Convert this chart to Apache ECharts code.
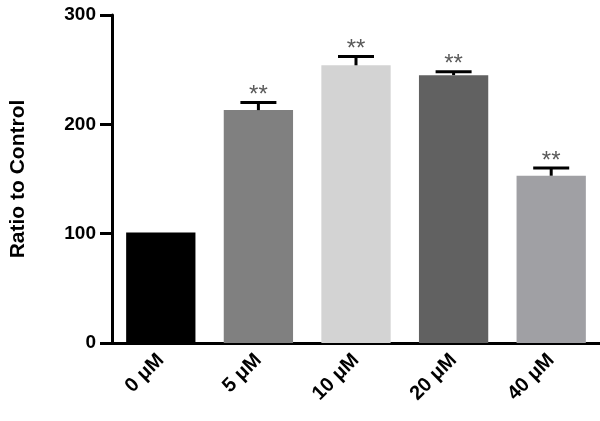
<!DOCTYPE html>
<html>
<head>
<meta charset="utf-8">
<script src="https://cdn.jsdelivr.net/npm/echarts@6/dist/echarts.min.js"></script>
<style>
  html, body { margin: 0; padding: 0; background: #fff; }
  #chart { width: 600px; height: 421px; }
</style>
</head>
<body>
<div id="chart"></div>
<script>
// bar data
const categories = ['0 μM', '5 μM', '10 μM', '20 μM', '40 μM']
const means = [101, 213, 254, 245, 153]
const errors = [0, 7, 8, 3, 7]
const marks = ['', '**', '**', '**', '**']
const barColors = ['#000000', '#808080', '#d3d3d3', '#616161', '#a0a0a4']
const yTicks = [0, 100, 200, 300]

let chart = echarts.init(document.getElementById('chart'))

let options = {
  animation: false,
  grid: { left: 110, right: 0, top: 15, bottom: 78 },
  xAxis: {
    type: 'category',
    data: categories,
    axisLine: { lineStyle: { color: '#000', width: 3 } },
    axisTick: { alignWithLabel: true, length: 10, lineStyle: { color: '#000', width: 3 } },
    axisLabel: {
      rotate: 45, margin: 14, color: '#000',
      fontFamily: 'Liberation Sans, Arial', fontWeight: 'bold', fontSize: 20
    }
  },
  yAxis: {
    type: 'value',
    min: yTicks[0],
    max: yTicks[yTicks.length - 1],
    interval: 100,
    name: 'Ratio to Control',
    nameLocation: 'middle',
    nameGap: 83,
    nameTextStyle: { color: '#000', fontFamily: 'Liberation Sans, Arial', fontWeight: 'bold', fontSize: 21 },
    splitLine: { show: false },
    axisLine: { show: true, lineStyle: { color: '#000', width: 3 } },
    axisTick: { show: true, length: 12, lineStyle: { color: '#000', width: 3 } },
    axisLabel: {
      margin: 16, color: '#000',
      fontFamily: 'Liberation Sans, Arial', fontWeight: 'bold', fontSize: 19
    }
  },
  series: [
    {
      type: 'bar',
      barCategoryGap: '29%',
      data: means.map((v, i) => ({ value: v, itemStyle: { color: barColors[i] } }))
    },
    {
      // error bars + significance stars
      type: 'custom',
      data: means.map((v, i) => [i, v, v + errors[i]]),
      z: 5,
      renderItem: function(params, api) {
        let i = api.value(0)
        let base = api.coord([i, api.value(1)])
        let top = api.coord([i, api.value(2)])
        let half = 18
        let children = []
        if (errors[i] > 0) {
          children.push({
            type: 'line',
            shape: { x1: base[0], y1: base[1], x2: top[0], y2: top[1] },
            style: { stroke: '#000', lineWidth: 3 }
          })
          children.push({
            type: 'line',
            shape: { x1: top[0] - half, y1: top[1], x2: top[0] + half, y2: top[1] },
            style: { stroke: '#000', lineWidth: 3 }
          })
        }
        if (marks[i]) {
          children.push({
            type: 'text',
            style: {
              text: marks[i], x: top[0], y: top[1] + 5,
              align: 'center', verticalAlign: 'bottom',
              fill: '#5a5a5a', font: '24px Liberation Sans, Arial'
            }
          })
        }
        return { type: 'group', children: children }
      }
    }
  ]
}
chart.setOption(options)
</script>
</body>
</html>
